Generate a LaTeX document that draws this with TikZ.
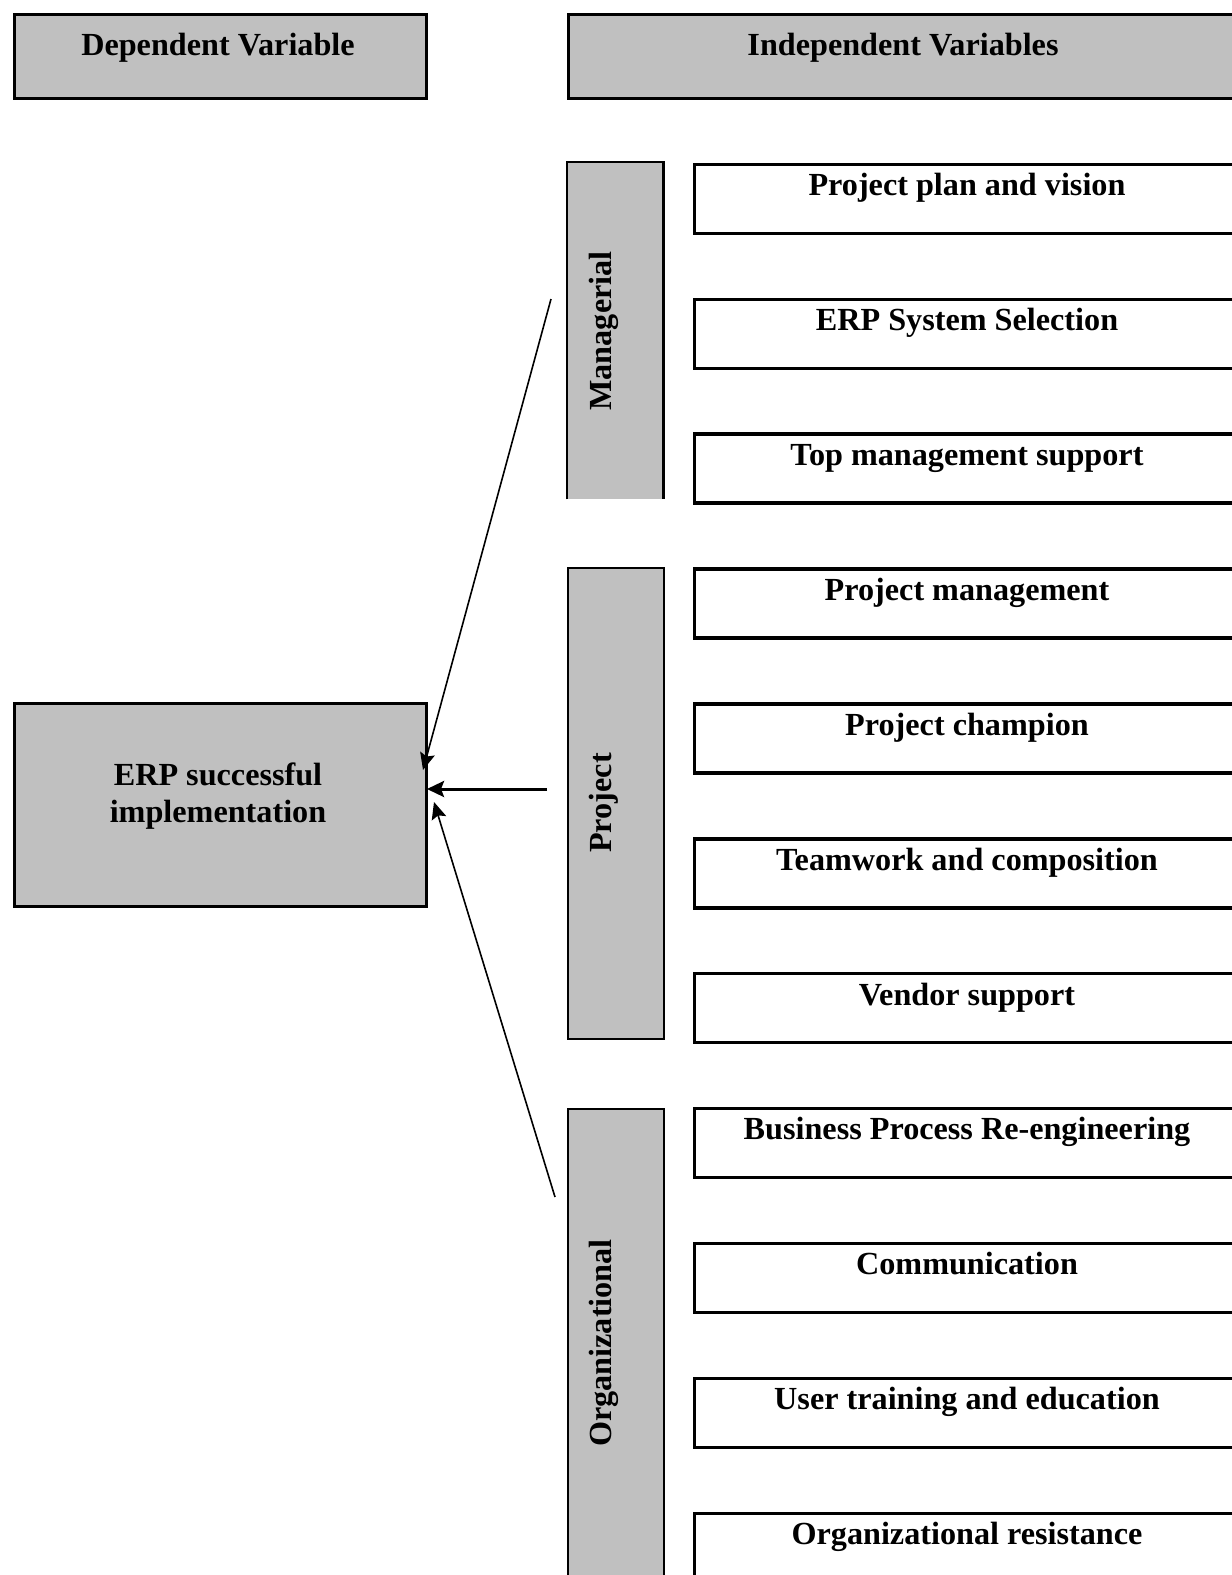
\documentclass[tikz,border=0pt]{standalone}
\usepackage{fontspec}
\setmainfont{Liberation Serif}
\usetikzlibrary{arrows.meta}
\definecolor{boxgray}{RGB}{192,192,192}
\begin{document}
\begin{tikzpicture}[x=1pt,y=-1pt,
  lbl/.style={font=\fontsize{32.2}{37}\selectfont\bfseries, inner sep=0pt},
  hdrbox/.style={draw, line width=3.2pt, fill=boxgray, rectangle, inner sep=0pt, anchor=north west},
  catbox/.style={fill=boxgray, rectangle, inner sep=0pt, anchor=north west, minimum width=96pt},
  catline/.style={line width=2.2pt},
  itembox/.style={draw, line width=3.4pt, rectangle, inner sep=0pt, anchor=north west, minimum width=548pt, minimum height=69pt},
  thinarrow/.style={line width=1.6pt, -{Stealth[length=17pt,width=15pt,inset=3pt]}},
  thickarrow/.style={line width=3pt, -{Stealth[length=17pt,width=16pt,inset=3pt]}}
]
\path[use as bounding box, clip] (0,0) rectangle (1232,1575);

% headers
\node[hdrbox, minimum width=412pt, minimum height=84pt] (dep) at (13,13) {};
\node[lbl, anchor=base] (deptxt) at (218,55) {Dependent Variable};
\node[hdrbox, minimum width=673pt, minimum height=84pt] (indep) at (567,13) {};
\node[lbl, anchor=base] (indeptxt) at (903,55) {Independent Variables};

% dependent variable box
\node[hdrbox, minimum width=412pt, minimum height=203pt] (erp) at (13,702) {};
\node[lbl, align=center] (erptxt) at (218,796) {ERP successful\\implementation};

% category boxes
\node[catbox, minimum height=337pt] (mgr) at (567,162) {};
\draw[catline] (mgr.south west) -- (mgr.north west) -- (mgr.north east) -- (mgr.south east);
\node[catbox, draw, catline, minimum height=471pt] (proj) at (567,567) {};
\node[catbox, draw, catline, minimum height=472pt] (org) at (567,1108) {};
\node[lbl, rotate=90] (mgrtxt) at (604,331) {Managerial};
\node[lbl, rotate=90] (projtxt) at (604,803) {Project};
\node[lbl, rotate=90] (orgtxt) at (604,1343) {Organizational};

% item boxes
\foreach \t [count=\i from 0] in {Project plan and vision, ERP System Selection, Top management support, Project management, Project champion, Teamwork and composition, Vendor support, Business Process Re-engineering, Communication, User training and education, Organizational resistance}{
  \pgfmathsetmacro{\ytop}{162.6+134.9*\i}
  \node[itembox] (item\i) at (693,\ytop) {};
  \node[lbl, anchor=base] (itemtxt\i) at (967,\ytop+33) {\t};
}

% arrows
\coordinate (s1) at (551,299);
\coordinate (t1) at (423,770);
\coordinate (s2) at (547,789);
\coordinate (t2) at (427,789);
\coordinate (s3) at (555,1197);
\coordinate (t3) at (434,802);
\draw[thinarrow] (s1) -- (t1);
\draw[thickarrow] (s2) -- (t2);
\draw[thinarrow] (s3) -- (t3);
\end{tikzpicture}
\end{document}
